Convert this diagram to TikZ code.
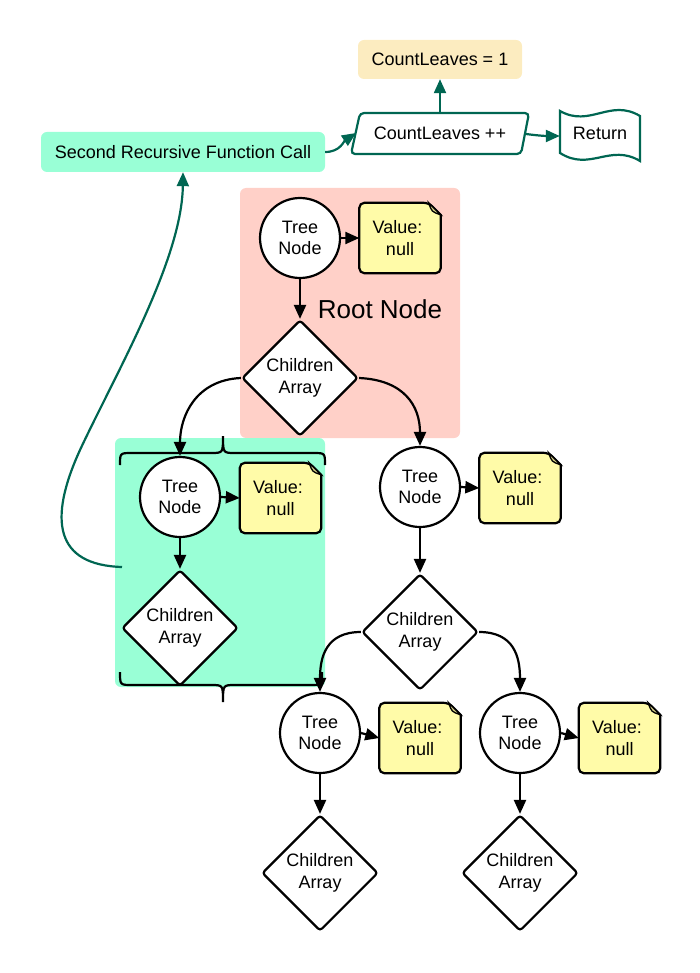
\documentclass[tikz,border=0pt]{standalone}
\usepackage{fontspec}
\setmainfont{Liberation Sans}
\usetikzlibrary{shapes.geometric,arrows.meta}
\definecolor{aqua}{RGB}{153,255,214}
\definecolor{rootred}{RGB}{255,208,200}
\definecolor{cntorange}{RGB}{252,236,192}
\definecolor{dgreen}{RGB}{0,102,82}
\definecolor{noteyellow}{RGB}{255,251,168}
\definecolor{foldcol}{RGB}{214,208,138}
\newcommand\drawnote[1]{%
  \draw[line width=2.2pt, fill=noteyellow] (#1.south west) [rounded corners=5pt] -- (#1.north west) -- ([xshift=-12pt]#1.north east) [sharp corners] -- ([yshift=-12pt]#1.north east) [rounded corners=5pt] -- (#1.south east) -- cycle;
  \draw[line width=1.3pt, fill=foldcol] ([xshift=-12pt]#1.north east) -- ([yshift=-12pt]#1.north east) .. controls ([xshift=-9pt,yshift=-9pt]#1.north east) .. cycle;
}
\begin{document}
\begin{tikzpicture}[x=1pt,y=-1pt,
  font=\fontsize{18}{21.5}\selectfont,
  tnode/.style={circle,draw,line width=2.2pt,fill=white,minimum size=80pt,inner sep=0pt,align=center},
  dnode/.style={diamond,draw,line width=2.2pt,fill=white,minimum width=116pt,minimum height=116pt,inner sep=0pt,align=center,rounded corners=3pt},
  vnote/.style={minimum width=81pt,minimum height=70pt,inner sep=0pt,align=center},
  blk/.style={line width=2.2pt,-{Triangle[length=14pt,width=12pt]}},
  grn/.style={draw=dgreen,line width=2.2pt,-{Triangle[length=14pt,width=12pt]},dgreen},
  brace/.style={line width=2.2pt}]
\useasboundingbox (0,0) rectangle (700,973);

% background regions
\fill[rootred, rounded corners=6pt] (240,188) rectangle (460,438);
\fill[aqua, rounded corners=6pt] (115,438) rectangle (325,687);

% braces
\draw[brace] (120,465) .. controls (120,453) .. (132,453) -- (211,453) .. controls (223,453) .. (223,436) .. controls (223,453) .. (235,453) -- (313,453) .. controls (325,453) .. (325,465);
\draw[brace] (120,672) .. controls (120,685) .. (132,685) -- (211,685) .. controls (223,685) .. (223,702) .. controls (223,685) .. (235,685) -- (310,685) .. controls (322,685) .. (322,672);

% top row
\node[fill=aqua, rounded corners=6pt, minimum width=284pt, minimum height=40pt, inner sep=0pt] (srf) at (183,152) {Second Recursive Function Call};
\node[fill=cntorange, rounded corners=6pt, minimum width=164pt, minimum height=39pt, inner sep=0pt] (c1) at (440,59.5) {CountLeaves = 1};
\draw[draw=dgreen, line width=2.2pt, fill=white, rounded corners=4pt] (360,113) -- (529,113) -- (521,154) -- (351,154) -- cycle;
\node[minimum width=160pt, minimum height=41pt, inner sep=0pt] (cl) at (440,133.5) {CountLeaves ++};
\draw[draw=dgreen, line width=2.2pt, fill=white] (560,111) .. controls (590,128) and (610,98) .. (640,116) -- (640,161) .. controls (610,143) and (590,172) .. (560,153) -- cycle;
\node[minimum width=80pt, minimum height=40pt, inner sep=0pt] (ret) at (600,133) {Return};
\coordinate (clw) at (356,133);
\coordinate (cle) at (526,134);
\draw[grn] (srf.east) .. controls +(15,0) and +(-12,8) .. (clw);
\draw[grn] (cl.north) -- (c1.south);
\draw[grn] (cle) .. controls +(15,2) and +(-12,0) .. ([yshift=-3pt]ret.west);

% root
\node[tnode] (t0) at (300,238) {Tree\\Node};
\node[vnote] (v0) at (400,238) {};
\drawnote{v0}
\node[align=center] at (v0) {Value:\hspace*{5pt}\\null};
\node[dnode] (d0) at (300,378) {Children\\Array};
\node[font=\fontsize{26}{30}\selectfont] (rootlbl) at (380,309) {Root Node};

% left child
\node[tnode] (t1) at (180,497) {Tree\\Node};
\node[vnote] (v1) at (280.5,498) {};
\drawnote{v1}
\node[align=center] at (v1) {Value:\hspace*{5pt}\\null};
\node[dnode] (d1) at (180,628) {Children\\Array};

% right child
\node[tnode] (t2) at (420,487) {Tree\\Node};
\node[vnote] (v2) at (520,488) {};
\drawnote{v2}
\node[align=center] at (v2) {Value:\hspace*{5pt}\\null};
\node[dnode] (d2) at (420,632) {Children\\Array};

% grandchildren
\node[tnode] (t3) at (320,733) {Tree\\Node};
\node[vnote] (v3) at (420,738) {};
\drawnote{v3}
\node[align=center] at (v3) {Value:\hspace*{5pt}\\null};
\node[dnode] (d3) at (320,873) {Children\\Array};

\node[tnode] (t4) at (520,733) {Tree\\Node};
\node[vnote] (v4) at (619.5,738) {};
\drawnote{v4}
\node[align=center] at (v4) {Value:\hspace*{5pt}\\null};
\node[dnode] (d4) at (520,873) {Children\\Array};

% connectors
\foreach \t/\v in {t0/v0,t1/v1,t2/v2,t3/v3,t4/v4}{\draw[blk] (\t.east) -- (\v.west);}
\foreach \t/\d in {t0/d0,t1/d1,t2/d2,t3/d3,t4/d4}{\draw[blk] (\t.south) -- (\d.north);}
\draw[blk] (d0.west) .. controls +(-45,2) and +(0,-40) .. (t1.north);
\draw[blk] (d0.east) .. controls +(45,2) and +(0,-40) .. (t2.north);
\draw[blk] (d2.west) .. controls +(-35,0) and +(0,-35) .. (t3.north);
\draw[blk] (d2.east) .. controls +(35,0) and +(0,-35) .. (t4.north);

% recursive call arrow
\coordinate (gs) at (122,567);
\draw[grn] (gs) .. controls (55,565) and (48,520) .. (80,450) .. controls (115,375) and (182,260) .. (srf.south);
\end{tikzpicture}
\end{document}
